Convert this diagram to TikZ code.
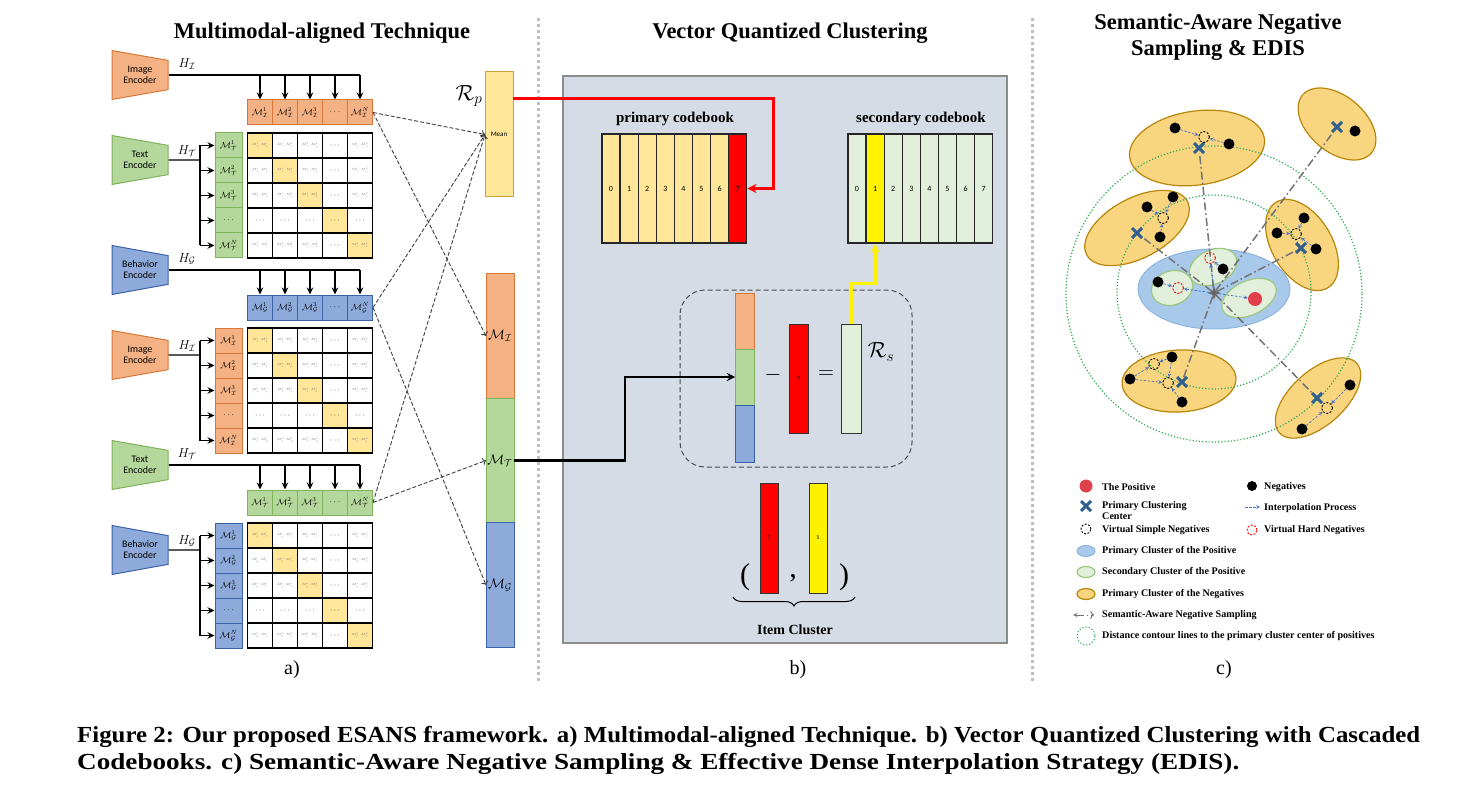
\RequirePackage{fix-cm}
\documentclass[tikz,border=0pt]{standalone}
\usepackage{fontspec}
\setmainfont{Liberation Serif}
\newfontfamily\encfont{Carlito}
\newfontfamily\capfont[FakeStretch=1.08]{Liberation Serif}
\newfontfamily\capfontwide[FakeStretch=1.18]{Liberation Serif}
\usepackage{xcolor}
\usepackage{tikz}
\usetikzlibrary{shapes.geometric, shapes.misc, positioning, decorations.pathreplacing, arrows.meta}

\definecolor{imgfill}{HTML}{F4B183}
\definecolor{imgdraw}{HTML}{D9773A}
\definecolor{txtfill}{HTML}{B4D89B}
\definecolor{txtdraw}{HTML}{7DB35A}
\definecolor{behfill}{HTML}{8EAADB}
\definecolor{behdraw}{HTML}{3A62A8}
\definecolor{diagfill}{HTML}{FFE699}
\definecolor{meandraw}{HTML}{C9A23A}
\definecolor{panelfill}{HTML}{D6DCE5}
\definecolor{secfill}{HTML}{E2EFDA}
\definecolor{negfill}{HTML}{F9D580}
\definecolor{negdraw}{HTML}{B8860B}
\definecolor{posclu}{HTML}{A9C9EA}
\definecolor{posclud}{HTML}{8DB4E2}
\definecolor{secclud}{HTML}{9CC77E}
\definecolor{crossblue}{HTML}{2F5F8F}
\definecolor{interpblue}{HTML}{4472C4}
\definecolor{contour}{HTML}{2EAA55}
\definecolor{posred}{HTML}{E0404A}

\tikzstyle{title} = [align=center, font=\bfseries\fontsize{22.5}{26}\selectfont]
\tikzstyle{subtitle} = [font=\bfseries\fontsize{15}{15}\selectfont, inner sep=0pt]
\tikzstyle{sep} = [draw=black!25, line width=3pt, dash pattern=on 3pt off 3pt]
\tikzstyle{encoder} = [trapezium, trapezium left angle=80, trapezium right angle=80, shape border rotate=270, trapezium stretches=true, minimum width=49pt, minimum height=56pt, inner sep=0pt, align=center, line width=1pt, font=\encfont\fontsize{10}{11}\selectfont]
\tikzstyle{vec} = [rectangle, minimum width=25pt, minimum height=25pt, inner sep=0pt, line width=1pt, font=\fontsize{9}{9}\selectfont]
\tikzstyle{cell} = [rectangle, minimum width=25pt, minimum height=25pt, inner sep=0pt, line width=1.6pt, draw=black, font=\fontsize{8}{8}\selectfont]
\tikzstyle{feed} = [line width=1.4pt]
\tikzstyle{feedarr} = [feed, -{Stealth[length=7pt, width=6.5pt]}]
\tikzstyle{dasharr} = [->, dash pattern=on 4pt off 2pt, line width=0.9pt, draw=black!75]
\tikzstyle{bar} = [rectangle, inner sep=0pt, outer sep=0pt, line width=1pt]
\tikzstyle{codecell} = [rectangle, minimum width=18.1pt, minimum height=109pt, inner sep=0pt, line width=1.2pt, draw=black!85, font=\encfont\fontsize{8}{8}\selectfont]
\tikzstyle{negclu} = [ellipse, fill=negfill, draw=negdraw, line width=1.2pt, inner sep=0pt]
\tikzstyle{posc} = [ellipse, fill=posclu, draw=posclud, line width=1pt, inner sep=0pt]
\tikzstyle{secc} = [ellipse, fill=secfill, draw=secclud, line width=1.2pt, inner sep=0pt]
\tikzstyle{contourline} = [draw=contour, line width=1.2pt, dash pattern=on 1.2pt off 2pt]
\tikzstyle{dot} = [circle, fill=black, minimum size=11pt, inner sep=0pt]
\tikzstyle{vsimple} = [circle, draw=black, minimum size=11pt, inner sep=0pt, line width=0.9pt, dash pattern=on 2pt off 1.5pt]
\tikzstyle{vhard} = [vsimple, draw=red]
\tikzstyle{ccross} = [cross out, draw=crossblue, line width=3pt, minimum size=7pt, inner sep=0pt]
\tikzstyle{cmark} = [star, star points=4, star point ratio=2.6, fill=black!60, minimum size=13pt, inner sep=0pt]
\tikzstyle{posdot} = [circle, fill=posred, minimum size=14pt, inner sep=0pt]
\tikzstyle{interp} = [-stealth, draw=interpblue, dash pattern=on 2.5pt off 1.5pt, line width=0.7pt]
\tikzstyle{sampling} = [draw=black!55, line width=1.5pt, dash pattern=on 8pt off 3pt on 1.5pt off 3pt]
\tikzstyle{legtext} = [anchor=west, inner sep=0pt, align=left, font=\bfseries\fontsize{10.1}{11.5}\selectfont]
\tikzstyle{caption} = [anchor=base west, inner sep=0pt, font=\bfseries\fontsize{23}{23}\selectfont]

\begin{document}
\begin{tikzpicture}[x=1pt, y=-1pt]
\useasboundingbox (0,0) rectangle (1466,794);

% titles
\node[title] (ta) at (322,33) {Multimodal-aligned Technique};
\node[title] (tb) at (790,33) {Vector Quantized Clustering};
\node[title] (tc) at (1218,37) {Semantic-Aware Negative\\Sampling \& EDIS};
\draw[sep] (538,18) -- (538,682);
\draw[sep] (1032,18) -- (1032,682);

% a) three alignment blocks
\foreach \k/\ta/\tb/\ca/\cb/\sa/\sb in {0/Image/Text/img/txt/I/T, 1/Behavior/Image/beh/img/G/I, 2/Text/Behavior/txt/beh/T/G}{
  \node[encoder, fill=\ca fill, draw=\ca draw] (enc\sa) at (140,75+195*\k) {\ta\\Encoder};
  \node[font=\fontsize{13}{13}\selectfont] (hTop\k) at (187,64+195*\k) {$H_{\mathcal{\sa}}$};
  \foreach \j/\lab in {1/1, 2/2, 3/3, 5/N}
    \node[vec, fill=\ca fill, draw=\ca draw] (row\sa-\j) at (235+25*\j,112.5+195*\k) {$\mathcal{M}^{\lab}_{\mathcal{\sa}}$};
  \node[vec, fill=\ca fill, draw=\ca draw] (row\sa-4) at (335,112.5+195*\k) {$\cdots$};
  \draw[feed] (enc\sa.east) -- (enc\sa.east -| row\sa-5.north);
  \foreach \j in {1,...,5}
    \draw[feedarr] (enc\sa.east -| row\sa-\j.north) -- (row\sa-\j.north);
  % side encoder and its column of vectors
  \node[encoder, fill=\cb fill, draw=\cb draw] (side\sb) at (140,160+195*\k) {\tb\\Encoder};
  \node[font=\fontsize{13}{13}\selectfont] (hSide\k) at (187,151+195*\k) {$H_{\mathcal{\sb}}$};
  \coordinate (br\k) at (200,160+195*\k);
  \foreach \i/\lab in {1/1, 2/2, 3/3, 5/N}
    \node[vec, minimum width=27pt, fill=\cb fill, draw=\cb draw] (col\sb-\i) at (228.5,120.5+25*\i+195*\k) {$\mathcal{M}^{\lab}_{\mathcal{\sb}}$};
  \node[vec, minimum width=27pt, fill=\cb fill, draw=\cb draw] (col\sb-4) at (228.5,220.5+195*\k) {$\cdots$};
  \draw[feed] (side\sb.east) -- (br\k);
  \draw[feed] (br\k |- col\sb-1) -- (br\k |- col\sb-5);
  \foreach \i in {1,...,5}
    \draw[feedarr] (br\k |- col\sb-\i) -- (col\sb-\i.west);
  % similarity matrix
  \foreach \i in {1,...,5}{
    \foreach \j in {1,...,5}{
      \ifnum\i=\j \def\cfill{diagfill}\else\def\cfill{white}\fi
      \ifnum\i=5 \def\rowsup{N}\else\edef\rowsup{\i}\fi
      \ifnum\j=5 \def\colsup{N}\else\edef\colsup{\j}\fi
      \node[cell, fill=\cfill] (m\k-\i-\j) at (235+25*\j,120.5+25*\i+195*\k)
        {\ifnum\i=4 $\cdots$\else\ifnum\j=4 $\cdots$\else{\color{black!60}\fontsize{3}{3}\selectfont$\mathcal{M}^{\rowsup}_{\mathcal{\sb}}\!\cdot\!\mathcal{M}^{\colsup}_{\mathcal{\sa}}$}\fi\fi};
    }
  }
}

% middle column
\node[bar, minimum width=28pt, minimum height=125pt, fill=diagfill, draw=meandraw] (mean) at (499,134.5) {\encfont\fontsize{7}{7}\selectfont Mean};
\node[font=\fontsize{22}{22}\selectfont] (Rp) at (469,96) {$\mathcal{R}_p$};
\node[bar, minimum width=28pt, minimum height=124.5pt, fill=imgfill, draw=imgdraw, font=\fontsize{14}{14}\selectfont] (MI) at (500,336) {$\mathcal{M}_{\mathcal{I}}$};
\node[bar, minimum width=28pt, minimum height=124.5pt, fill=txtfill, draw=txtdraw, font=\fontsize{14}{14}\selectfont, below=0pt of MI] (MT) {$\mathcal{M}_{\mathcal{T}}$};
\node[bar, minimum width=28pt, minimum height=124.5pt, fill=behfill, draw=behdraw, font=\fontsize{14}{14}\selectfont, below=0pt of MT] (MG) {$\mathcal{M}_{\mathcal{G}}$};
\foreach \mod/\tgt in {I/MI, G/MG, T/MT}{
  \draw[dasharr] (row\mod-5.east) -- (mean.west);
  \draw[dasharr] (row\mod-5.east) -- (\tgt.west);
}

% b) vector quantized clustering
\draw[fill=panelfill, draw=black!45, line width=1.2pt] (563,76) rectangle (1007,643);
\foreach \i in {0,...,6}
  \node[codecell, fill=diagfill] (p\i) at (611+18.1*\i,188.5) {\i};
\node[codecell, fill=red] (p7) at (737.7,188.5) {7};
\foreach \i in {0,2,3,4,5,6,7}
  \node[codecell, fill=secfill] (s\i) at (857+18.1*\i,188.5) {\i};
\node[codecell, fill=yellow] (s1) at (875.1,188.5) {1};
\node[subtitle, above=7pt of p3.north east] (ptitle) {primary codebook};
\node[subtitle, above=7pt of s3.north east] (stitle) {secondary codebook};

\draw[rounded corners=25pt, draw=black!70, line width=1pt, dash pattern=on 5pt off 3pt] (680,290) rectangle (912,467);
\node[bar, minimum width=19pt, minimum height=56pt, fill=imgfill, draw=imgdraw] (barI) at (744.5,321) {};
\node[bar, minimum width=19pt, minimum height=56pt, fill=txtfill, draw=txtdraw, below=0pt of barI] (barT) {};
\node[bar, minimum width=19pt, minimum height=57pt, fill=behfill, draw=behdraw, below=0pt of barT] (barG) {};
\node[font=\fontsize{22}{22}\selectfont] (minus) at (773,375) {$-$};
\node[bar, minimum width=19pt, minimum height=109pt, fill=red, draw=black!80, font=\encfont\fontsize{6}{6}\selectfont] (cur) at (798.5,378.5) {7};
\node[font=\fontsize{22}{22}\selectfont] (equal) at (826,375) {$=$};
\node[bar, minimum width=20pt, minimum height=109pt, fill=secfill, draw=black!80] (Rs) at (851,378.5) {};
\node[font=\fontsize{22}{22}\selectfont] (Rslab) at (881,352) {$\mathcal{R}_s$};

\draw[draw=red, line width=3pt, -stealth] ([yshift=35.5pt]mean.east) -| ([xshift=26pt]p7.east) -- (p7.east);
\draw[draw=yellow, line width=3pt, -stealth] (Rs.north) -- ++(0,-41) -| (s1.south);
\coordinate (bend) at (625,377);
\draw[line width=2.6pt, -stealth] (MT.east) -| (bend) -- (barT.west);

\node[bar, minimum width=18pt, minimum height=110pt, fill=red, draw=black!80, font=\encfont\fontsize{6}{6}\selectfont] (ic7) at (769,538) {7};
\node[bar, minimum width=18pt, minimum height=110pt, fill=yellow, draw=black!80, font=\encfont\fontsize{6}{6}\selectfont] (ic1) at (818,538) {1};
\node[font=\fontsize{30}{30}\selectfont] (lpar) at (745,577) {(};
\node[font=\fontsize{30}{30}\selectfont] (comma) at (793,578) {,};
\node[font=\fontsize{30}{30}\selectfont] (rpar) at (844,577) {)};
\draw[decorate, decoration={brace, mirror, amplitude=9pt}, line width=1pt] (733,597) -- (855,597);
\node[font=\bfseries\fontsize{14}{14}\selectfont] (icl) at (795,630) {Item Cluster};

% c) semantic-aware negative sampling
\node[negclu, minimum width=136pt, minimum height=74pt, rotate=8] (n1) at (1197,148) {};
\node[negclu, minimum width=90pt, minimum height=56pt, rotate=-40] (n2) at (1337,124) {};
\node[negclu, minimum width=114pt, minimum height=60pt, rotate=28] (n3) at (1137,228) {};
\node[negclu, minimum width=100pt, minimum height=60pt, rotate=-59] (n4) at (1302,245) {};
\node[negclu, minimum width=114pt, minimum height=62pt, rotate=3] (n5) at (1179,381) {};
\node[negclu, minimum width=104pt, minimum height=54pt, rotate=42] (n6) at (1318,398) {};
\node[posc, minimum width=152pt, minimum height=80pt] (pc) at (1214,289) {};
\node[secc, minimum width=42pt, minimum height=34pt, rotate=20] (sc1) at (1172,288) {};
\node[secc, minimum width=50pt, minimum height=34pt, rotate=25] (sc2) at (1213,267) {};
\node[secc, minimum width=58pt, minimum height=34pt, rotate=25] (sc3) at (1249,298) {};
\draw[contourline] (1214,294) circle[radius=148];
\draw[contourline] (1214,292) circle[radius=97];

\node[cmark] (cen) at (1214,293) {};
\node[posdot] (pos) at (1255,299) {};
\node[dot] (p1) at (1158,282) {};
\node[dot] (p2) at (1223,269) {};
\node[vhard] (h1) at (1178,288) {};
\node[vhard] (h2) at (1210,258) {};

\node[ccross] (x1) at (1199,148) {};
\node[ccross] (x2) at (1337,127) {};
\node[ccross] (x3) at (1137,233) {};
\node[ccross] (x4) at (1301,248) {};
\node[ccross] (x5) at (1182,382) {};
\node[ccross] (x6) at (1317,398) {};
\node[dot] (d11) at (1175,128) {};
\node[dot] (d12) at (1229,144) {};
\node[vsimple] (v11) at (1204,137) {};
\node[dot] (d21) at (1355,131) {};
\node[dot] (d31) at (1147,207) {};
\node[dot] (d32) at (1173,197) {};
\node[dot] (d33) at (1160,237) {};
\node[vsimple] (v31) at (1163,218) {};
\node[dot] (d41) at (1304,218) {};
\node[dot] (d42) at (1277,233) {};
\node[dot] (d43) at (1316,249) {};
\node[vsimple] (v41) at (1296,234) {};
\node[dot] (d51) at (1172,357) {};
\node[dot] (d52) at (1130,379) {};
\node[dot] (d53) at (1182,402) {};
\node[vsimple] (v51) at (1154,364) {};
\node[vsimple] (v52) at (1168,383) {};
\node[dot] (d61) at (1350,385) {};
\node[dot] (d62) at (1302,429) {};
\node[vsimple] (v61) at (1327,408) {};

\foreach \c in {x1,x2,x3,x4,x5,x6}
  \draw[sampling] (cen) -- (\c);
\foreach \a/\b in {p1/h1, cen/h1, p2/h2, cen/h2, cen/pos, d11/v11, d12/v11, d31/v31, d32/v31, d33/v31, d41/v41, d42/v41, d43/v41, d51/v51, d52/v51, d52/v52, d53/v52, d51/v52, d61/v61, d62/v61}
  \draw[interp] (\a) -- (\b);

% legend
\node[posdot, minimum size=13pt] (lg1) at (1086,486) {};
\node[legtext] (lt1) at (1102,487) {The Positive};
\node[dot, minimum size=10pt] (lg2) at (1252,486) {};
\node[legtext] (lt2) at (1264,487) {Negatives};
\node[ccross] (lg3) at (1086,506) {};
\node[legtext, anchor=north west] (lt3) at (1102,501) {Primary Clustering\\Center};
\coordinate (lg4a) at (1245,507);
\coordinate (lg4b) at (1260,507);
\draw[interp] (lg4a) -- (lg4b);
\node[legtext] (lt4) at (1264,508) {Interpolation Process};
\node[vsimple, minimum size=10pt] (lg5) at (1086,529) {};
\node[legtext] (lt5) at (1102,530) {Virtual Simple Negatives};
\node[vhard, minimum size=10pt] (lg6) at (1252,530) {};
\node[legtext] (lt6) at (1264,530) {Virtual Hard Negatives};
\node[posc, minimum width=18pt, minimum height=11pt] (lg7) at (1086,551) {};
\node[legtext] (lt7) at (1102,551) {Primary Cluster of the Positive};
\node[secc, minimum width=18pt, minimum height=11pt] (lg8) at (1086,572) {};
\node[legtext] (lt8) at (1102,572) {Secondary Cluster of the Positive};
\node[negclu, minimum width=18pt, minimum height=11pt] (lg9) at (1086,594) {};
\node[legtext] (lt9) at (1102,594) {Primary Cluster of the Negatives};
\coordinate (lg10a) at (1073,615);
\coordinate (lg10b) at (1094,615);
\draw[sampling, line width=1pt, stealth->] (lg10a) -- (lg10b);
\node[legtext] (lt10) at (1102,615) {Semantic-Aware Negative Sampling};
\draw[contourline, line width=1pt] (1086,636) circle[radius=9];
\node[legtext] (lt11) at (1102,636) {Distance contour lines to the primary cluster center of positives};

% panel labels and caption
\node[font=\fontsize{20}{20}\selectfont] (la) at (292,670) {a)};
\node[font=\fontsize{20}{20}\selectfont] (lb) at (798,670) {b)};
\node[font=\fontsize{20}{20}\selectfont] (lc) at (1224,670) {c)};
\node[caption] (cap1) at (77,742) {\capfont\bfseries\makebox[1343pt][s]{Figure 2: Our proposed ESANS framework. a) Multimodal-aligned Technique. b) Vector Quantized Clustering with Cascaded}};
\node[caption] (cap2) at (77,769) {\capfontwide\bfseries Codebooks. c) Semantic-Aware Negative Sampling \& Effective Dense Interpolation Strategy (EDIS).};
\end{tikzpicture}
\end{document}
